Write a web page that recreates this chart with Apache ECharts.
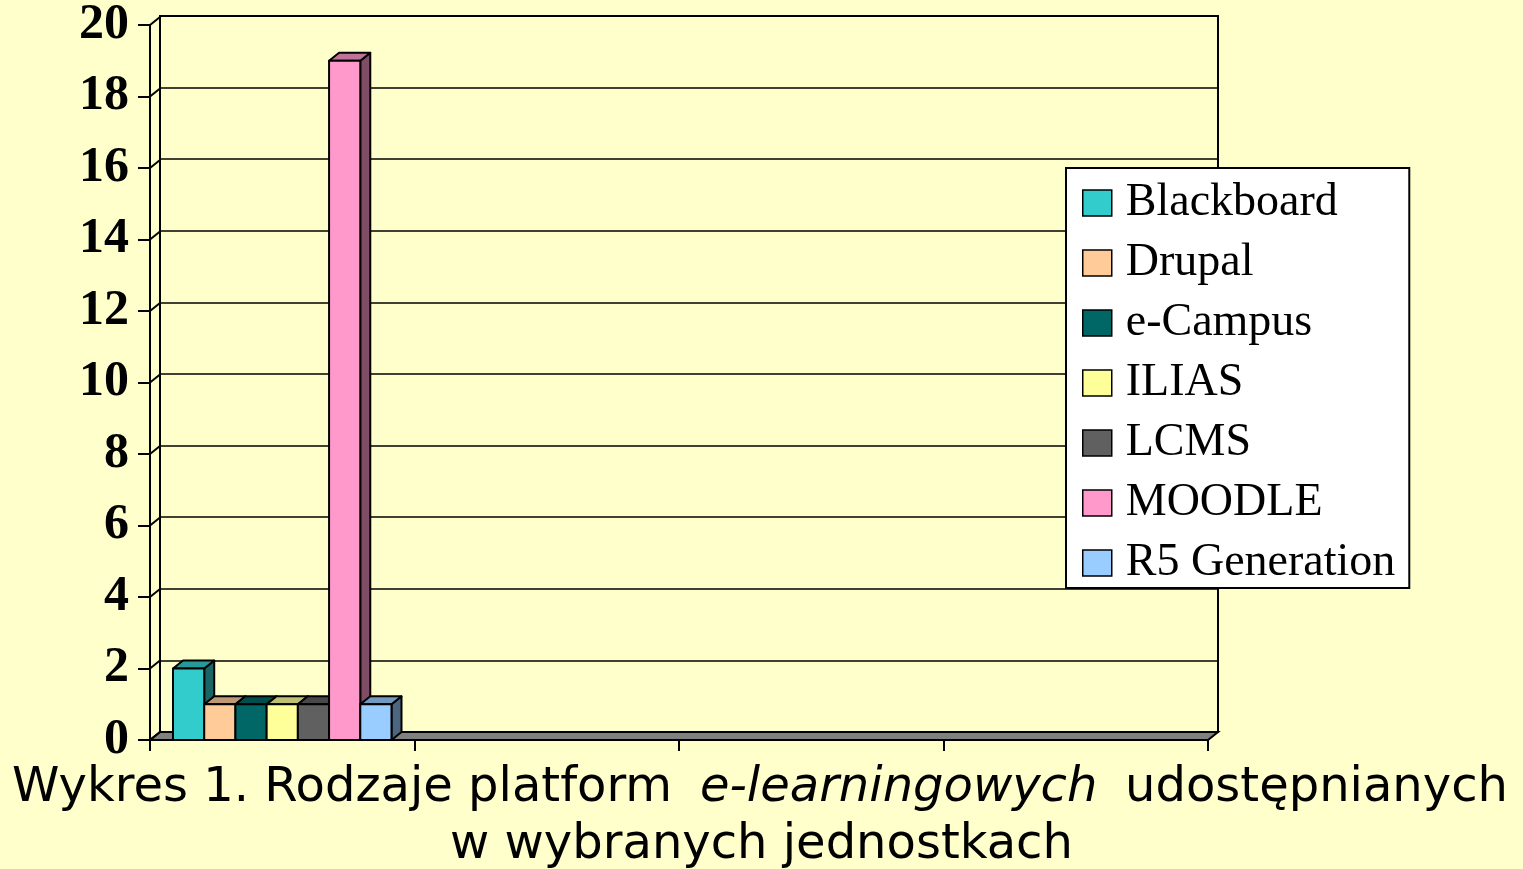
<!DOCTYPE html>
<html>
<head>
<meta charset="utf-8">
<script src="https://cdn.jsdelivr.net/npm/echarts@6/dist/echarts.min.js"></script>
<style>
  html, body { margin: 0; padding: 0; background: #FFFFCC; }
  #chart { width: 1523px; height: 869px; }
</style>
</head>
<body>
<div id="chart"></div>
<script>
// kategorie osi X (bez podpisow)
const categories = ['', '', '', '']
const yTicks = [0, 2, 4, 6, 8, 10, 12, 14, 16, 18, 20]

// liczba jednostek korzystajacych z platformy
const blackboard = [2, null, null, null]
const drupal = [1, null, null, null]
const eCampus = [1, null, null, null]
const ilias = [1, null, null, null]
const lcms = [1, null, null, null]
const moodle = [19, null, null, null]
const r5Generation = [1, null, null, null]

const platforms = ['Blackboard', 'Drupal', 'e-Campus', 'ILIAS', 'LCMS', 'MOODLE', 'R5 Generation']
const platformValues = [blackboard, drupal, eCampus, ilias, lcms, moodle, r5Generation]
const colors = ['#33CCCC', '#FFCC99', '#006666', '#FFFF99', '#606060', '#FF99CC', '#99CCFF']

// przesuniecie glebi (efekt 3D)
const DX = 10
const DY = -8

function shade (hex, f) {
  const n = parseInt(hex.slice(1), 16)
  const r = Math.round(((n >> 16) & 255) * f)
  const g = Math.round(((n >> 8) & 255) * f)
  const b = Math.round((n & 255) * f)
  return 'rgb(' + r + ',' + g + ',' + b + ')'
}

function barSeries (name, values, idx) {
  const color = colors[idx]
  return {
    name: name,
    type: 'custom',
    xAxisIndex: 0,
    yAxisIndex: 0,
    z: 3,
    itemStyle: { color: color },
    data: values.map((v, i) => [i, v]).filter(d => d[1] !== null),
    renderItem: function (params, api) {
      const cat = api.value(0)
      const val = api.value(1)
      const top = api.coord([cat, val])
      const base = api.coord([cat, 0])
      const band = api.size([1, 0])[0]
      const cluster = band * 0.826
      const w = cluster / platforms.length
      const x0 = base[0] - cluster / 2 + idx * w
      const x1 = x0 + w
      const yt = top[1]
      const yb = base[1]
      const line = { stroke: '#000', lineWidth: 2, lineJoin: 'round' }
      return {
        type: 'group',
        children: [
          {
            type: 'polygon',
            shape: { points: [[x1, yt], [x1 + DX, yt + DY], [x1 + DX, yb + DY], [x1, yb]] },
            style: Object.assign({ fill: shade(color, 0.5) }, line)
          },
          {
            type: 'polygon',
            shape: { points: [[x0, yt], [x1, yt], [x1 + DX, yt + DY], [x0 + DX, yt + DY]] },
            style: Object.assign({ fill: shade(color, 0.75) }, line)
          },
          {
            type: 'rect',
            shape: { x: x0, y: yt, width: w, height: yb - yt },
            style: Object.assign({ fill: color }, line)
          }
        ]
      }
    }
  }
}

// sciana boczna i podloga
const frameSeries = {
  type: 'custom',
  xAxisIndex: 0,
  yAxisIndex: 0,
  z: 2,
  silent: true,
  data: yTicks.map(v => [0, v]),
  renderItem: function (params, api) {
    const cs = params.coordSys
    const y = api.coord([0, api.value(1)])[1]
    const children = [{
      type: 'line',
      shape: { x1: cs.x, y1: y, x2: cs.x + DX, y2: y + DY },
      style: { stroke: '#000', lineWidth: 2 }
    }]
    if (params.dataIndex === 0) {
      const yb = cs.y + cs.height
      children.unshift({
        type: 'polygon',
        shape: { points: [[cs.x, yb], [cs.x + cs.width, yb], [cs.x + cs.width + DX, yb + DY], [cs.x + DX, yb + DY]] },
        style: { fill: '#808080', stroke: '#000', lineWidth: 2 }
      })
    }
    return { type: 'group', children: children }
  }
}

const captionFont = '48px "DejaVu Sans"'

const chart = echarts.init(document.getElementById('chart'))
chart.setOption({
  backgroundColor: '#FFFFCC',
  animation: false,
  grid: [
    { left: 150, right: 315, top: 24, bottom: 129 },
    { left: 150 + DX, right: 315 - DX, top: 24 + DY, bottom: 129 - DY, show: true, backgroundColor: '#FFFFCC', borderColor: '#000', borderWidth: 2 }
  ],
  xAxis: [
    {
      type: 'category',
      gridIndex: 0,
      data: categories,
      axisLine: { lineStyle: { color: '#000', width: 2 } },
      axisTick: { show: true, length: 11, lineStyle: { color: '#000', width: 2 } },
      axisLabel: { show: false },
      splitLine: { show: false }
    },
    {
      type: 'category',
      gridIndex: 1,
      data: categories,
      show: false
    }
  ],
  yAxis: [
    {
      type: 'value',
      gridIndex: 0,
      min: 0,
      max: 20,
      interval: 2,
      axisLine: { show: true, lineStyle: { color: '#000', width: 2 } },
      axisTick: { show: true, length: 12, lineStyle: { color: '#000', width: 2 } },
      axisLabel: {
        margin: 21,
        color: '#000',
        fontFamily: 'Liberation Serif',
        fontWeight: 'bold',
        fontSize: 50
      },
      splitLine: { show: false }
    },
    {
      type: 'value',
      gridIndex: 1,
      min: 0,
      max: 20,
      interval: 2,
      axisLine: { show: false },
      axisTick: { show: false },
      axisLabel: { show: false },
      splitLine: { show: true, lineStyle: { color: '#000', width: 1.5 } }
    }
  ],
  legend: {
    orient: 'vertical',
    left: 1066,
    top: 168,
    selectedMode: false,
    data: platforms,
    icon: 'rect',
    itemWidth: 29,
    itemHeight: 26,
    itemGap: 14,
    backgroundColor: '#FFFFFF',
    borderColor: '#000',
    borderWidth: 2,
    borderRadius: 0,
    padding: [12, 14, 2, 16],
    itemStyle: { borderColor: '#000', borderWidth: 1.5 },
    textStyle: {
      fontFamily: 'Liberation Serif',
      fontSize: 46,
      lineHeight: 44,
      color: '#000',
      padding: [0, 0, 0, 9]
    }
  },
  graphic: [
    {
      type: 'text', left: 12, top: 765,
      style: { text: 'Wykres 1. Rodzaje platform', font: captionFont, fill: '#000' }
    },
    {
      type: 'text', left: 700, top: 765,
      style: { text: 'e-learningowych', font: 'italic ' + captionFont, fill: '#000' }
    },
    {
      type: 'text', right: 15, top: 765,
      style: { text: 'udostępnianych', font: captionFont, fill: '#000' }
    },
    {
      type: 'text', left: 'center', top: 822,
      style: { text: 'w wybranych jednostkach', font: captionFont, fill: '#000' }
    }
  ],
  series: [frameSeries].concat(platforms.map((p, i) => barSeries(p, platformValues[i], i)))
})
</script>
</body>
</html>
